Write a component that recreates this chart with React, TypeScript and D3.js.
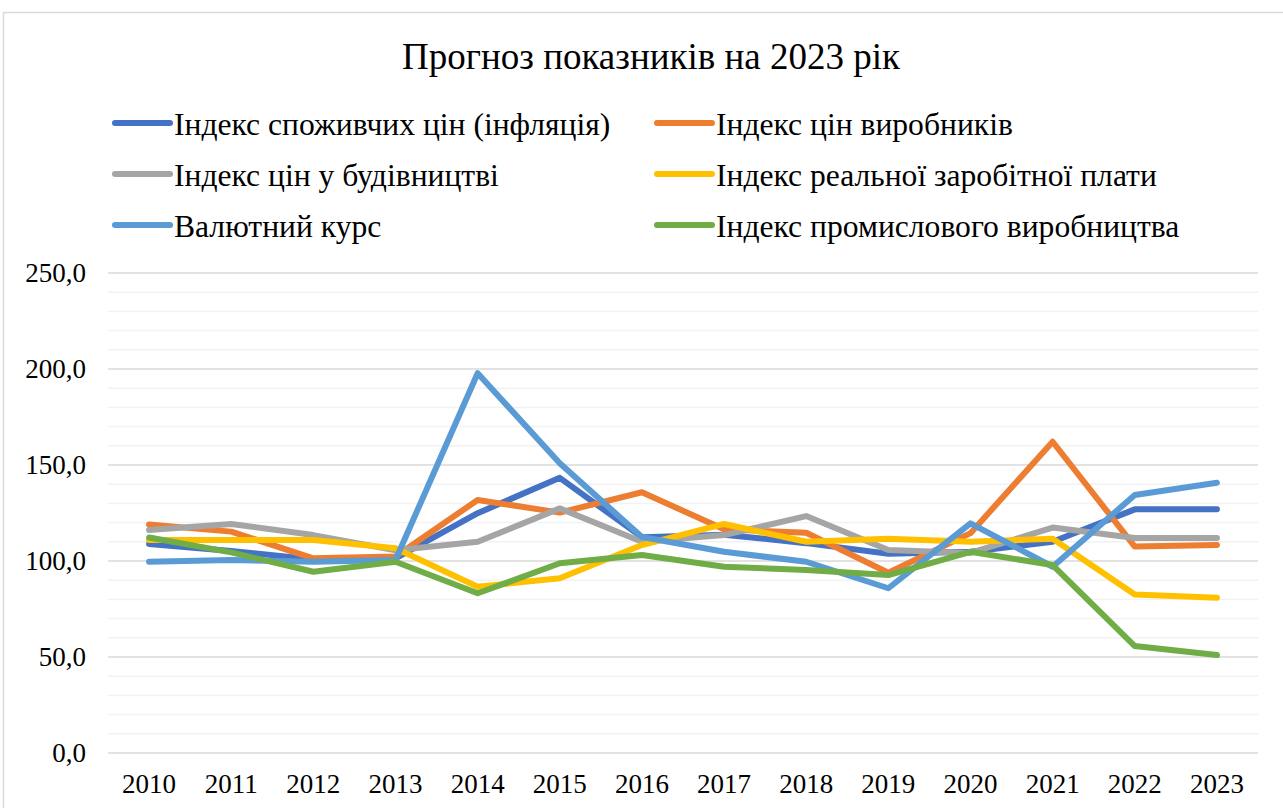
import React from "react";
import * as d3 from "d3";

const years = ["2010", "2011", "2012", "2013", "2014", "2015", "2016", "2017", "2018", "2019", "2020", "2021", "2022", "2023"];

const cpi = [108.9, 105.2, 100.8, 101.4, 124.9, 143.3, 112.4, 113.7, 109.3, 103.8, 104.8, 110.0, 126.9, 127.0];
const producer = [119.0, 115.3, 101.4, 102.3, 131.8, 125.2, 135.8, 116.5, 114.7, 93.9, 114.5, 162.1, 107.5, 108.3];
const construction = [116.1, 119.3, 113.5, 105.6, 110.0, 127.4, 110.0, 113.5, 123.4, 105.7, 104.2, 117.4, 112.0, 112.0];
const realWage = [110.9, 110.9, 110.9, 106.6, 86.6, 91.0, 108.3, 119.3, 110.0, 111.6, 110.0, 111.6, 82.6, 80.9];
const exchange = [99.6, 100.5, 99.6, 100.5, 197.8, 150.9, 112.5, 104.8, 99.6, 85.8, 119.6, 97.0, 134.4, 140.8];
const industry = [112.2, 104.5, 94.4, 99.6, 83.2, 98.8, 103.1, 97.0, 95.3, 92.7, 104.8, 97.9, 55.7, 51.0];

const seriesNames = [
  "Індекс споживчих цін (інфляція)",
  "Індекс цін виробників",
  "Індекс цін у будівництві",
  "Індекс реальної заробітної плати",
  "Валютний курс",
  "Індекс промислового виробництва",
];
const seriesColors = ["#4472C4", "#ED7D31", "#A5A5A5", "#FFC000", "#5B9BD5", "#70AD47"];
const seriesValues = [cpi, producer, construction, realWage, exchange, industry];

const yMajor = [0, 50, 100, 150, 200, 250];

const FONT = "'Liberation Serif', 'Times New Roman', serif";

export default function App() {
  const W = 1283;
  const H = 808;
  const left = 108;
  const right = 1258;
  const top = 273;
  const bottom = 753;

  const x = d3.scaleBand<string>().domain(years).range([left, right]);
  const y = d3.scaleLinear().domain([0, 250]).range([bottom, top]);
  const minor = d3.range(0, 251, 10).filter((v) => v % 50 !== 0);

  const line = d3
    .line<number>()
    .x((_, i) => (x(years[i]) as number) + x.bandwidth() / 2)
    .y((d) => y(d));

  return (
    <svg width={W} height={H} style={{ position: "absolute", left: 0, top: 0, background: "#fff" }}>
      <rect x={3.5} y={12.5} width={1300} height={820} fill="#fff" stroke="#d9d9d9" strokeWidth={1.5} />
      <text x={651} y={69} textAnchor="middle" fontFamily={FONT} fontSize={37} fill="#000">
        Прогноз показників на 2023 рік
      </text>

      {seriesNames.map((name, i) => {
        const col = i % 2;
        const row = Math.floor(i / 2);
        const lx = col === 0 ? 115 : 657;
        const ly = 123 + row * 51;
        return (
          <g key={name}>
            <line x1={lx} x2={lx + 55} y1={ly} y2={ly} stroke={seriesColors[i]} strokeWidth={6} strokeLinecap="round" />
            <text x={lx + 59} y={ly + 11.5} fontFamily={FONT} fontSize={31.6} fill="#000">
              {name}
            </text>
          </g>
        );
      })}

      {minor.map((v) => (
        <line key={"m" + v} x1={left} x2={right} y1={y(v)} y2={y(v)} stroke="#f2f2f2" strokeWidth={1.5} />
      ))}
      {yMajor.map((v) => (
        <g key={"M" + v}>
          <line x1={left} x2={right} y1={y(v)} y2={y(v)} stroke="#d9d9d9" strokeWidth={1.5} />
          <text x={86} y={y(v) + 9} textAnchor="end" fontFamily={FONT} fontSize={27} fill="#000">
            {d3.format(".1f")(v).replace(".", ",")}
          </text>
        </g>
      ))}

      {years.map((yr) => (
        <text
          key={yr}
          x={(x(yr) as number) + x.bandwidth() / 2}
          y={793}
          textAnchor="middle"
          fontFamily={FONT}
          fontSize={27}
          fill="#000"
        >
          {yr}
        </text>
      ))}

      {seriesValues.map((vals, i) => (
        <path
          key={seriesNames[i]}
          d={line(vals) as string}
          fill="none"
          stroke={seriesColors[i]}
          strokeWidth={6}
          strokeLinecap="round"
          strokeLinejoin="round"
        />
      ))}
    </svg>
  );
}
